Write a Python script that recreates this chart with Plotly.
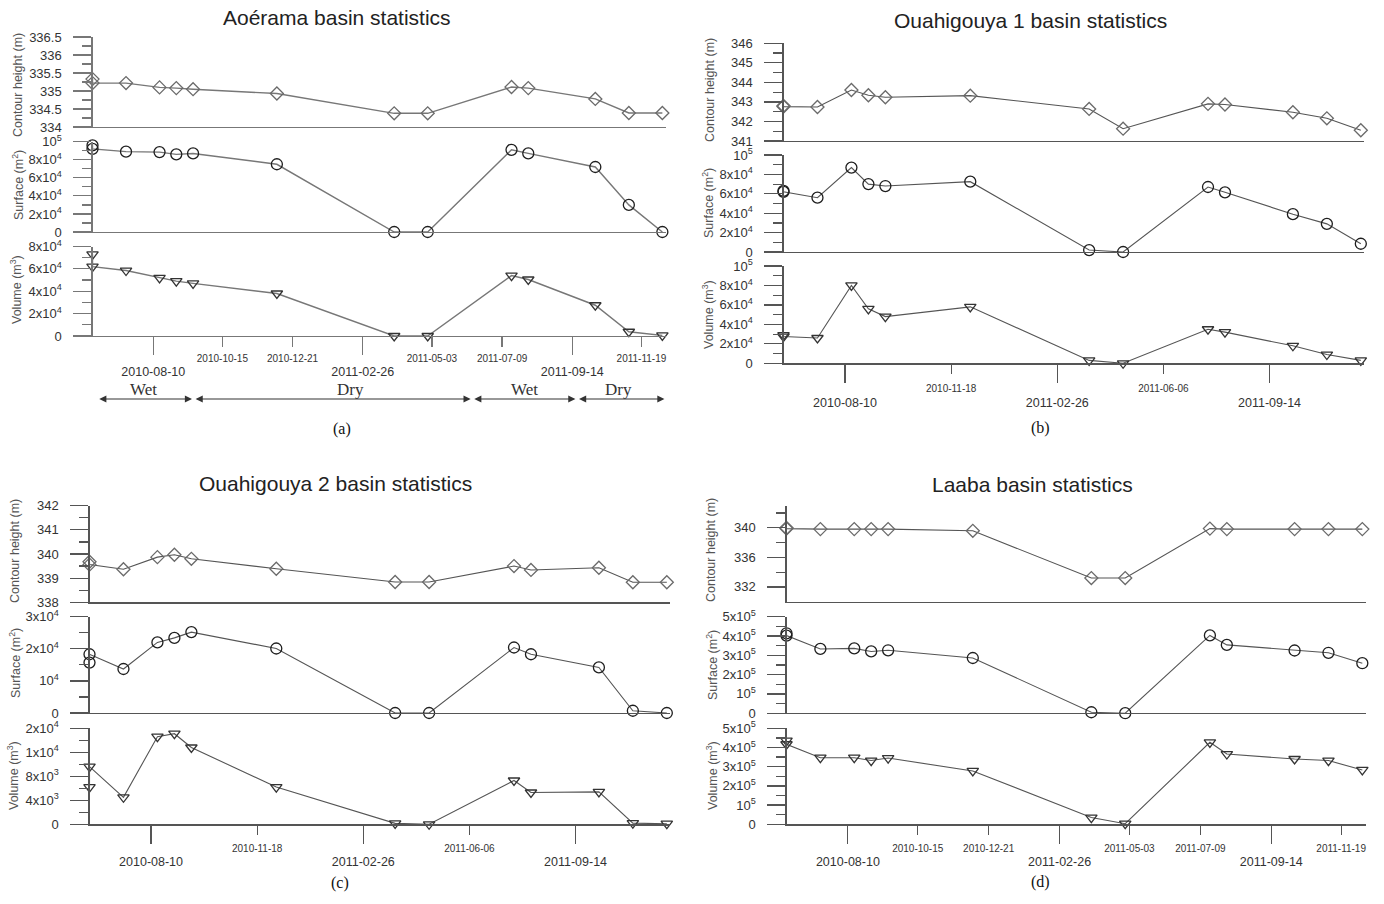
import plotly.graph_objects as go

W, H = 1384, 904

# ---------------- data ----------------
# observation dates (the first date carries two readings in each series)
dates = ['2010-06-13', '2010-07-15', '2010-08-16', '2010-09-01', '2010-09-17', '2010-12-06',
         '2011-03-28', '2011-04-29', '2011-07-18', '2011-08-03', '2011-10-06', '2011-11-07',
         '2011-12-09']
obs_dates = [dates[0]] + dates

# Aoérama
aoe_height = [335.33, 335.22, 335.22, 335.10, 335.08, 335.05, 334.93, 334.38, 334.38,
              335.11, 335.08, 334.78, 334.39, 334.39]
aoe_surface = [9.6e4, 9.2e4, 8.9e4, 8.85e4, 8.6e4, 8.7e4, 7.5e4, 0, 0,
               9.1e4, 8.7e4, 7.2e4, 3.0e4, 0]
aoe_volume = [7.3e4, 6.2e4, 5.85e4, 5.2e4, 4.9e4, 4.7e4, 3.8e4, 0, 0,
              5.4e4, 5.05e4, 2.75e4, 0.38e4, 0.05e4]

# Ouahigouya 1
oua1_height = [342.80, 342.76, 342.74, 343.61, 343.34, 343.24, 343.32, 342.64, 341.63,
               342.90, 342.87, 342.47, 342.16, 341.55]
oua1_surface = [6.3e4, 6.2e4, 5.6e4, 8.7e4, 7.0e4, 6.8e4, 7.25e4, 0.2e4, 0,
                6.7e4, 6.15e4, 3.9e4, 2.9e4, 0.85e4]
oua1_volume = [2.9e4, 2.75e4, 2.6e4, 8.0e4, 5.6e4, 4.8e4, 5.8e4, 0.3e4, 0,
               3.5e4, 3.2e4, 1.8e4, 0.9e4, 0.3e4]

# Ouahigouya 2
oua2_height = [339.68, 339.56, 339.37, 339.87, 339.97, 339.80, 339.39, 338.84, 338.84,
               339.50, 339.34, 339.43, 338.83, 338.83]
oua2_surface = [1.57e4, 1.83e4, 1.37e4, 2.2e4, 2.34e4, 2.52e4, 2.01e4, 0, 0,
                2.04e4, 1.83e4, 1.42e4, 0.07e4, 0]
oua2_volume = [6.2e3, 9.6e3, 4.5e3, 14.6e3, 15.1e3, 12.8e3, 6.2e3, 0.15e3, 0,
               7.3e3, 5.3e3, 5.4e3, 0.2e3, 0.1e3]

# Laaba
laa_height = [340.0, 339.9, 339.83, 339.83, 339.83, 339.83, 339.6, 333.2, 333.2,
              339.9, 339.83, 339.83, 339.83, 339.83]
laa_surface = [4.14e5, 4.02e5, 3.33e5, 3.36e5, 3.2e5, 3.26e5, 2.86e5, 0.05e5, 0,
               4.03e5, 3.54e5, 3.25e5, 3.13e5, 2.59e5]
laa_volume = [4.36e5, 4.17e5, 3.47e5, 3.47e5, 3.32e5, 3.45e5, 2.78e5, 0.35e5, 0.03e5,
              4.27e5, 3.66e5, 3.4e5, 3.32e5, 2.83e5]

# x tick labels
major_dates = ['2010-08-10', '2011-02-26', '2011-09-14']
minor_dates_ad = ['2010-10-15', '2010-12-21', '2011-05-03', '2011-07-09', '2011-11-19']
minor_dates_bc = ['2010-11-18', '2011-06-06']

# y tick values / labels
aoe_h_ticks = [334, 334.5, 335, 335.5, 336, 336.5]
aoe_h_text = ['334', '334.5', '335', '335.5', '336', '336.5']
aoe_s_ticks = [0, 2e4, 4e4, 6e4, 8e4, 1e5]
aoe_s_text = ['0', '2x10<sup>4</sup>', '4x10<sup>4</sup>', '6x10<sup>4</sup>', '8x10<sup>4</sup>', '10<sup>5</sup>']
aoe_v_ticks = [0, 2e4, 4e4, 6e4, 8e4]
aoe_v_text = ['0', '2x10<sup>4</sup>', '4x10<sup>4</sup>', '6x10<sup>4</sup>', '8x10<sup>4</sup>']

oua1_h_ticks = [341, 342, 343, 344, 345, 346]
oua1_h_text = ['341', '342', '343', '344', '345', '346']
oua1_s_ticks = aoe_s_ticks
oua1_s_text = aoe_s_text

oua2_h_ticks = [338, 339, 340, 341, 342]
oua2_h_text = ['338', '339', '340', '341', '342']
oua2_s_ticks = [0, 1e4, 2e4, 3e4]
oua2_s_text = ['0', '10<sup>4</sup>', '2x10<sup>4</sup>', '3x10<sup>4</sup>']
oua2_v_ticks = [0, 4e3, 8e3, 12e3, 16e3]
oua2_v_text = ['0', '4x10<sup>3</sup>', '8x10<sup>3</sup>', '1x10<sup>4</sup>', '2x10<sup>4</sup>']

laa_h_ticks = [332, 336, 340]
laa_h_text = ['332', '336', '340']
laa_s_ticks = [0, 1e5, 2e5, 3e5, 4e5, 5e5]
laa_s_text = ['0', '10<sup>5</sup>', '2x10<sup>5</sup>', '3x10<sup>5</sup>', '4x10<sup>5</sup>', '5x10<sup>5</sup>']

season_names = ['Wet', 'Dry', 'Wet', 'Dry']
season_bounds = [('2010-06-18', '2010-09-16'), ('2010-09-18', '2011-06-09'),
                 ('2011-06-11', '2011-09-17'), ('2011-09-19', '2011-12-11')]
season_label_dates = ['2010-08-01', '2011-02-14', '2011-07-30', '2011-10-28']

# ---------------- layout helpers ----------------
def X(px):
    return px / W

def Y(py):
    return 1 - py / H

def mids(vals):
    return [(a + b) / 2 for a, b in zip(vals[:-1], vals[1:])]

xrange_ = ['2010-06-13', '2011-12-12']
FONT = 'Liberation Sans, Arial, sans-serif'
SERIF = 'Liberation Serif, Times New Roman, serif'

panels = [
    dict(title='Aoérama basin statistics', tpos=(337, 17), label='(a)', lpos=(342, 429),
         x=(92.5, 665.5), axc='#777', std=(6, 3),
         rows=[(127, 37), (232, 141.7), (336, 246.5)],
         ranges=[[334, 336.5], [0, 1e5], [0, 8e4]],
         ticks=[(aoe_h_ticks, aoe_h_text), (aoe_s_ticks, aoe_s_text), (aoe_v_ticks, aoe_v_text)],
         series=[aoe_height, aoe_surface, aoe_volume],
         minor_dates=minor_dates_ad,
         ytitles=[(18, 85), (18, 185), (16, 290)]),
    dict(title='Ouahigouya 1 basin statistics', tpos=(1030, 21), label='(b)', lpos=(1040, 428),
         x=(783.5, 1364), axc='#555', std=(9, 6),
         rows=[(141, 43.3), (252, 155), (363.3, 266)],
         ranges=[[341, 346], [0, 1e5], [0, 1e5]],
         ticks=[(oua1_h_ticks, oua1_h_text), (oua1_s_ticks, oua1_s_text), (oua1_s_ticks, oua1_s_text)],
         series=[oua1_height, oua1_surface, oua1_volume],
         minor_dates=minor_dates_bc,
         ytitles=[(710, 90), (708, 203), (708, 315)]),
    dict(title='Ouahigouya 2 basin statistics', tpos=(335, 483), label='(c)', lpos=(340, 883),
         x=(89.5, 670), axc='#555', std=(7, 5),
         rows=[(602.3, 505.7), (713, 616.7), (824.3, 728.3)],
         ranges=[[338, 342], [0, 3e4], [0, 16000]],
         ticks=[(oua2_h_ticks, oua2_h_text), (oua2_s_ticks, oua2_s_text), (oua2_v_ticks, oua2_v_text)],
         series=[oua2_height, oua2_surface, oua2_volume],
         minor_dates=minor_dates_bc,
         ytitles=[(15, 551), (15, 663), (13, 776)]),
    dict(title='Laaba basin statistics', tpos=(1032, 484), label='(d)', lpos=(1040, 882),
         x=(786.5, 1365.5), axc='#555', std=(7, 5),
         rows=[(601.7, 505.7), (713.2, 616.7), (824.3, 728.3)],
         ranges=[[330, 343], [0, 5e5], [0, 5e5]],
         ticks=[(laa_h_ticks, laa_h_text), (laa_s_ticks, laa_s_text), (laa_s_ticks, laa_s_text)],
         series=[laa_height, laa_surface, laa_volume],
         minor_dates=minor_dates_ad,
         ytitles=[(711, 550), (712, 665), (712, 776)]),
]

ytitle_texts = ['Contour height (m)', 'Surface (m<sup>2</sup>)', 'Volume (m<sup>3</sup>)']
symbols = ['diamond-open', 'circle-open', 'triangle-down-open']
mcolors = ['#6a6a6a', '#1e1e1e', '#333333']

fig = go.Figure()
layout = {}
annotations = []

for p, pn in enumerate(panels):
    x0, x1 = pn['x']
    std_major, std_minor = pn['std']
    for s in range(3):
        k = p * 3 + s + 1
        bottom, top = pn['rows'][s]
        tv, tt = pn['ticks'][s]
        rng = pn['ranges'][s]
        if p == 3 and s == 0:
            minor_vals = [334, 338, 342]
        else:
            minor_vals = mids(tv)
        xa = dict(domain=[X(x0), X(x1)], range=xrange_, type='date', anchor=f'y{k}',
                  showline=True, linecolor=pn['axc'], linewidth=1.2, showgrid=False,
                  zeroline=False, ticks='', showticklabels=False, fixedrange=True,
                  automargin=False)
        if s == 2:
            xa.update(ticks='outside', tickmode='array', tickvals=major_dates,
                      ticktext=major_dates, ticklen=18, tickwidth=1.2,
                      tickcolor=pn['axc'], showticklabels=True,
                      tickfont=dict(family=FONT, size=12.5, color='#333'),
                      ticklabelstandoff=std_major)
        layout[f'xaxis{k}'] = xa
        layout[f'yaxis{k}'] = dict(domain=[Y(bottom), Y(top)], range=rng, anchor=f'x{k}',
                                   showline=True, linecolor=pn['axc'], linewidth=1.2,
                                   ticks='outside', ticklen=18, tickwidth=1.2,
                                   tickcolor=pn['axc'], tickmode='array', tickvals=tv,
                                   ticktext=tt, showgrid=False, zeroline=False,
                                   tickfont=dict(family=FONT, size=13, color='#333'),
                                   ticklabelstandoff=9, fixedrange=True, automargin=False,
                                   minor=dict(tickmode='array', tickvals=minor_vals,
                                              ticks='outside', ticklen=9, tickwidth=1.2,
                                              tickcolor=pn['axc'], showgrid=False))
        fig.add_trace(go.Scatter(
            x=obs_dates, y=pn['series'][s], xaxis=f'x{k}', yaxis=f'y{k}',
            mode='lines+markers', cliponaxis=False, showlegend=False,
            line=dict(color='#777' if p == 0 else '#555', width=1.4 if p == 0 else 1.1),
            marker=dict(symbol=symbols[s], size=10 if s != 1 else 11, color=mcolors[s],
                        line=dict(width=1.3, color=mcolors[s]))))
        tx, ty = pn['ytitles'][s]
        annotations.append(dict(text=ytitle_texts[s], x=X(tx), y=Y(ty), xref='paper',
                                yref='paper', showarrow=False, textangle=-90,
                                xanchor='center', yanchor='middle',
                                font=dict(family=FONT, size=12.5, color='#555')))
    # overlay axis carrying the secondary date ticks
    kb = p * 3 + 3
    km = 12 + p + 1
    layout[f'xaxis{km}'] = dict(overlaying=f'x{kb}', anchor=f'y{kb}', range=xrange_,
                                type='date', tickmode='array', tickvals=pn['minor_dates'],
                                ticktext=pn['minor_dates'], ticks='outside', ticklen=10,
                                tickwidth=1.2, tickcolor=pn['axc'], showline=False,
                                showgrid=False, zeroline=False, side='bottom',
                                tickfont=dict(family=FONT, size=10, color='#333'),
                                ticklabelstandoff=std_minor, fixedrange=True,
                                automargin=False)
    fig.add_trace(go.Scatter(x=[obs_dates[0]], y=[None], xaxis=f'x{km}', yaxis=f'y{kb}',
                             mode='markers', showlegend=False, hoverinfo='skip'))
    # panel title and label
    annotations.append(dict(text=pn['title'], x=X(pn['tpos'][0]), y=Y(pn['tpos'][1]),
                            xref='paper', yref='paper', showarrow=False,
                            xanchor='center', yanchor='middle',
                            font=dict(family=FONT, size=21, color='#222')))
    annotations.append(dict(text=pn['label'], x=X(pn['lpos'][0]), y=Y(pn['lpos'][1]),
                            xref='paper', yref='paper', showarrow=False,
                            xanchor='center', yanchor='middle',
                            font=dict(family=SERIF, size=16, color='#111')))

# seasons for panel (a)
for name, (d0, d1), dl in zip(season_names, season_bounds, season_label_dates):
    annotations.append(dict(x=d1, y=Y(399), xref='x3', yref='paper', ax=d0, ay=0,
                            axref='x3', ayref='pixel', text='', showarrow=True,
                            arrowhead=2, startarrowhead=2, arrowside='end+start',
                            arrowsize=1.3, arrowwidth=1.1, arrowcolor='#333',
                            standoff=0, startstandoff=0))
    annotations.append(dict(x=dl, y=Y(390), xref='x3', yref='paper', text=name,
                            showarrow=False, xanchor='center', yanchor='middle',
                            font=dict(family=SERIF, size=17, color='#333')))

fig.update_layout(**layout)
fig.update_layout(width=W, height=H, margin=dict(l=0, r=0, t=0, b=0, autoexpand=False),
                  paper_bgcolor='white', plot_bgcolor='white', showlegend=False,
                  hovermode=False, annotations=annotations)

fig.write_html('out.html', config={'displayModeBar': False, 'staticPlot': True},
               post_script="document.body.style.margin='0';document.body.style.overflow='hidden';")
